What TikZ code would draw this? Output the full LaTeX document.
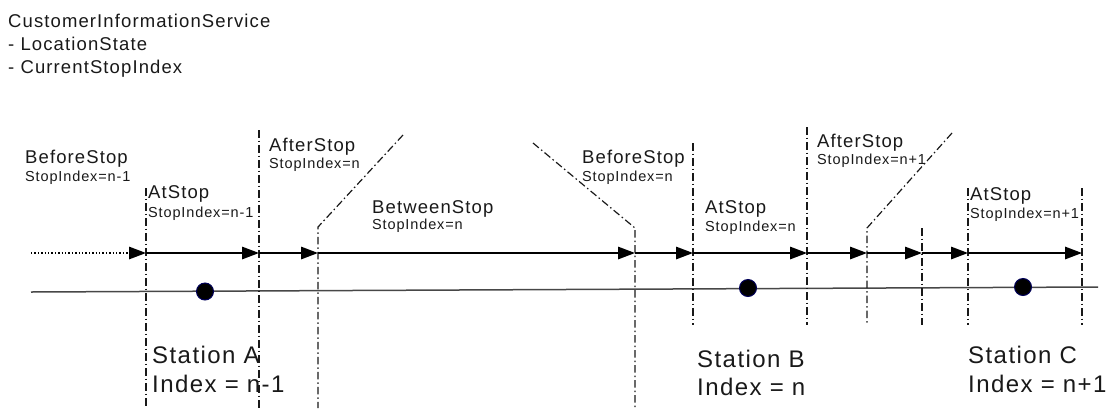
\documentclass[tikz,border=0pt]{standalone}
\usepackage{fontspec}
\setmainfont{Liberation Sans}[LetterSpace=6]
\usetikzlibrary{arrows.meta}
\tikzset{
  title/.style={anchor=base west, inner sep=0pt, text=black!90, font=\fontsize{18.5}{22}\selectfont},
  lbl/.style={anchor=base west, inner sep=0pt, text=black!90, font=\fontsize{18.5}{22}\selectfont},
  sublbl/.style={anchor=base west, inner sep=0pt, text=black!90, font=\fontsize{14.5}{17}\selectfont},
  stn/.style={anchor=base west, inner sep=0pt, text=black!90, font=\fontsize{24}{29}\selectfont},
  bound/.style={draw=black!90, line width=1.2pt, dash pattern=on 7.5pt off 3pt on 1.5pt off 3pt},
  flow/.style={draw=black, line width=1.4pt, -{Triangle[length=17pt,width=12.5pt]}},
  dotflow/.style={draw=black, line width=1.4pt, dotted, -{Triangle[length=17pt,width=12.5pt]}},
  track/.style={draw=black!72, line width=1.5pt},
  stopdot/.style={circle, fill=black, draw=blue!35!black, line width=1pt, minimum size=17pt, inner sep=0pt}
}
\begin{document}
\begin{tikzpicture}[x=1pt,y=-1pt]
\useasboundingbox (0,0) rectangle (1111,408);

% header
\node[title] (h1) at (8,27) {CustomerInformationService};
\node[title] (h2) at (8,50) {- LocationState};
\node[title] (h3) at (8,73) {- CurrentStopIndex};

% coordinates of boundaries: top, arrow row, bottom
\coordinate (a0) at (31,253);
\coordinate (t1) at (146,188); \coordinate (a1) at (146,253); \coordinate (b1) at (146,408);
\coordinate (t2) at (259,130); \coordinate (a2) at (259,253); \coordinate (b2) at (259,408);
\coordinate (t3) at (318,227); \coordinate (a3) at (318,253); \coordinate (b3) at (318,408);
\coordinate (d3) at (403,135);
\coordinate (t4) at (635,228); \coordinate (a4) at (635,253); \coordinate (b4) at (635,408);
\coordinate (d4) at (533,143);
\coordinate (t5) at (693,143); \coordinate (a5) at (693,253); \coordinate (b5) at (693,325);
\coordinate (t6) at (807,127); \coordinate (a6) at (807,253); \coordinate (b6) at (807,325);
\coordinate (t7) at (867,228); \coordinate (a7) at (867,253); \coordinate (b7) at (867,325);
\coordinate (d7) at (952,133);
\coordinate (t8) at (922,228); \coordinate (a8) at (922,253); \coordinate (b8) at (922,325);
\coordinate (t9) at (968,188); \coordinate (a9) at (968,253); \coordinate (b9) at (968,325);
\coordinate (t10) at (1082,188); \coordinate (a10) at (1082,253); \coordinate (b10) at (1082,325);

% track
\coordinate (s0) at (31,292);
\coordinate (s1) at (1098,287);
\draw[track] (s0) -- (s1);

% boundaries
\draw[bound] (t1) -- (b1);
\draw[bound] (t2) -- (b2);
\draw[bound] (d3) -- (t3) -- (b3);
\draw[bound] (d4) -- (t4) -- (b4);
\draw[bound] (t5) -- (b5);
\draw[bound] (t6) -- (b6);
\draw[bound] (d7) -- (t7) -- (b7);
\draw[bound] (t8) -- (b8);
\draw[bound] (t9) -- (b9);
\draw[bound] (t10) -- (b10);

% flow arrows
\draw[dotflow] (a0) -- (a1);
\draw[flow] (a1) -- (a2);
\draw[flow] (a2) -- (a3);
\draw[flow] (a3) -- (a4);
\draw[flow] (a4) -- (a5);
\draw[flow] (a5) -- (a6);
\draw[flow] (a6) -- (a7);
\draw[flow] (a7) -- (a8);
\draw[flow] (a8) -- (a9);
\draw[flow] (a9) -- (a10);

% stations
\node[stopdot] (sa) at (205,291.5) {};
\node[stopdot] (sb) at (748,288) {};
\node[stopdot] (sc) at (1023,287) {};

% state labels
\node[lbl] (l1) at (25,163) {BeforeStop};
\node[sublbl] (l1s) at (25,181) {StopIndex=n-1};
\node[lbl] (l2) at (148,198) {AtStop};
\node[sublbl] (l2s) at (148,217) {StopIndex=n-1};
\node[lbl] (l3) at (269,151) {AfterStop};
\node[sublbl] (l3s) at (269,168) {StopIndex=n};
\node[lbl] (l4) at (372,213) {BetweenStop};
\node[sublbl] (l4s) at (372,229) {StopIndex=n};
\node[lbl] (l5) at (582,163) {BeforeStop};
\node[sublbl] (l5s) at (582,181) {StopIndex=n};
\node[lbl] (l6) at (705,213) {AtStop};
\node[sublbl] (l6s) at (705,231) {StopIndex=n};
\node[lbl] (l7) at (817,147) {AfterStop};
\node[sublbl] (l7s) at (817,164) {StopIndex=n+1};
\node[lbl] (l8) at (970,200) {AtStop};
\node[sublbl] (l8s) at (970,218) {StopIndex=n+1};

% station labels
\node[stn] (na) at (152,363) {Station A};
\node[stn] (nai) at (152,392) {Index = n-1};
\node[stn] (nb) at (697,367) {Station B};
\node[stn] (nbi) at (697,395) {Index = n};
\node[stn] (nc) at (968,363) {Station C};
\node[stn] (nci) at (968,392) {Index = n+1};
\end{tikzpicture}
\end{document}
